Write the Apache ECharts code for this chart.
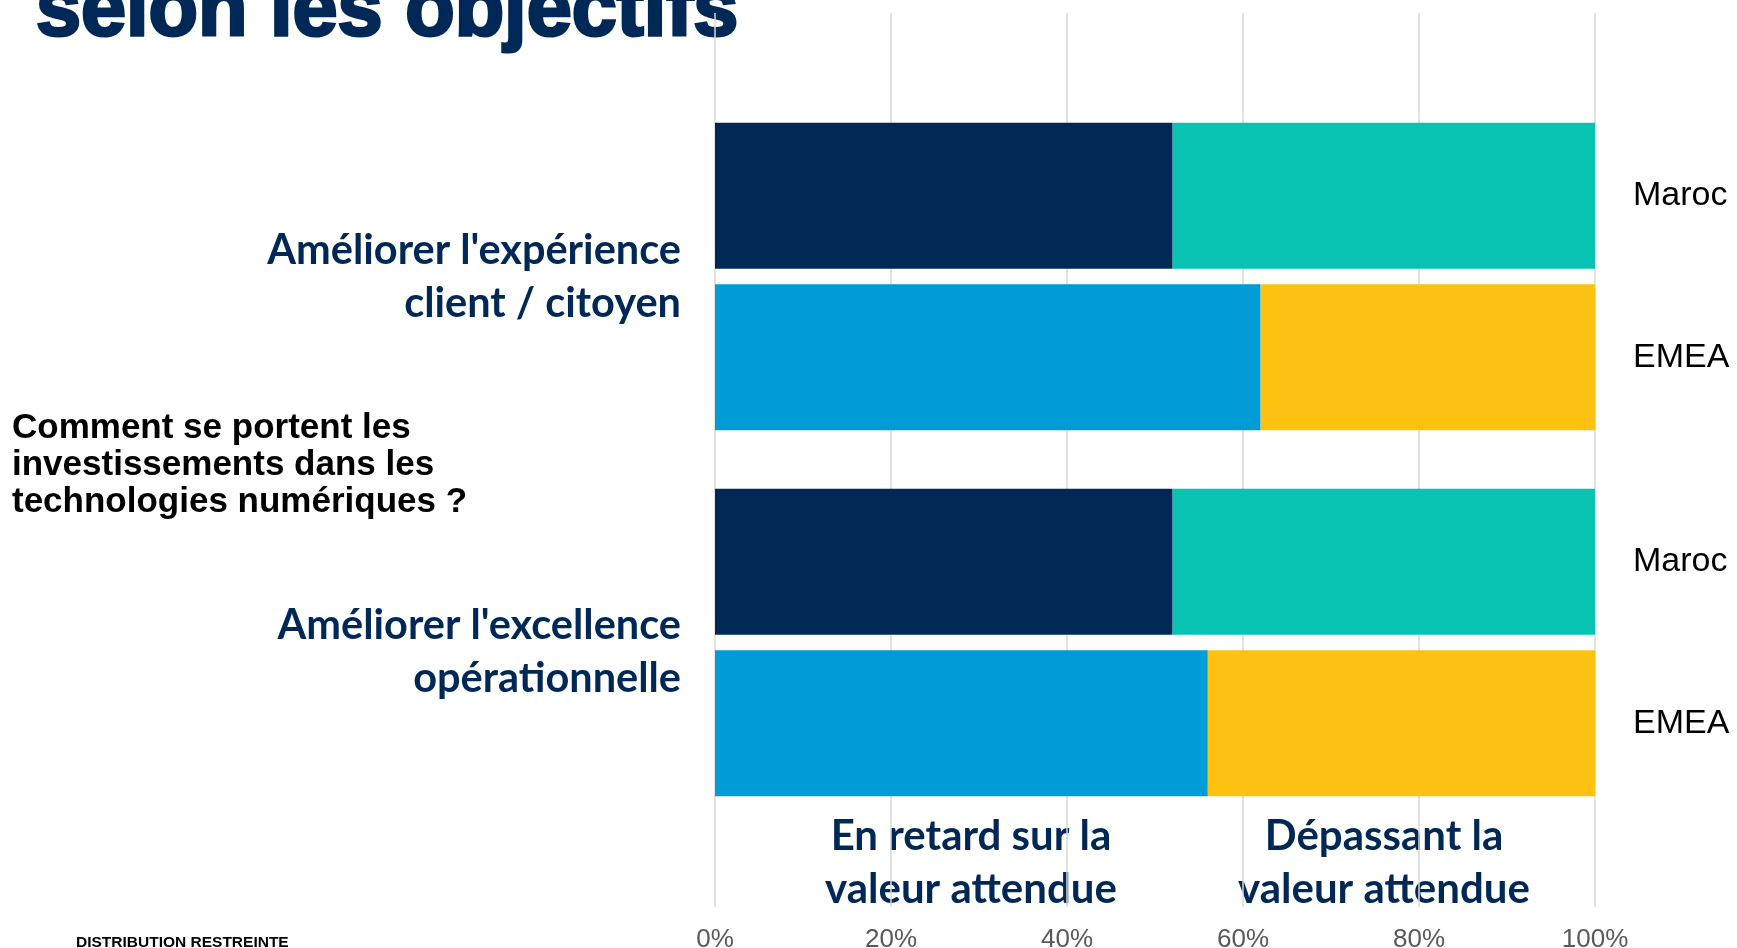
<!DOCTYPE html>
<html><head><meta charset="utf-8">
<script src="https://cdn.jsdelivr.net/npm/echarts@6/dist/echarts.min.js"></script>
<style>html,body{margin:0;padding:0;background:#fff;overflow:hidden}#c{width:1737px;height:948px}</style>
</head><body><div id="c"></div>
<script>
// ---- data ----
const regions = ['Maroc', 'EMEA'];
const objectives = ["Améliorer l'expérience\nclient / citoyen", "Améliorer l'excellence\nopérationnelle"];
const enRetard1 = [52, 62];
const depassant1 = [48, 38];
const enRetard2 = [52, 56];
const depassant2 = [48, 44];
const xTickMin = 0, xTickMax = 100, xTickStep = 20;
const statusLabels = ["En retard sur la\nvaleur attendue", "Dépassant la\nvaleur attendue"];
const question = "Comment se portent les\ninvestissements dans les\ntechnologies numériques ?";
const titleText = "selon les objectifs";
const footer = "DISTRIBUTION RESTREINTE";

// ---- style ----
const NAVY = '#002856';
const retardColors = ['#002855', '#009CD7'];
const depassantColors = ['#09C3B2', '#FDC112'];
const ARIAL = '"Liberation Sans", Arial, sans-serif';
const NARROW = '"Liberation Sans Narrow", "Arial Narrow", "Liberation Sans", sans-serif';
const CAL = 'Lato, "Noto Sans", sans-serif';

const chart = echarts.init(document.getElementById('c'), null, {renderer: 'canvas'});

function barPair(name1, d1, name2, d2, idx) {
  return [
    {type: 'bar', name: name1, xAxisIndex: idx, yAxisIndex: idx, stack: 'g' + idx, barWidth: 146,
     data: d1, itemStyle: {color: p => retardColors[p.dataIndex]}, z: 3},
    {type: 'bar', name: name2, xAxisIndex: idx, yAxisIndex: idx, stack: 'g' + idx, barWidth: 146,
     data: d2, itemStyle: {color: p => depassantColors[p.dataIndex]}, z: 3}
  ];
}

const catAxis = (gi) => ({
  gridIndex: gi, type: 'category', data: regions, inverse: true, position: 'right',
  axisLine: {show: false}, axisTick: {show: false}, splitLine: {show: false},
  axisLabel: {fontSize: 34, color: '#000', margin: 38, align: 'left', fontFamily: ARIAL}
});
const hiddenX = (gi) => ({gridIndex: gi, type: 'value', min: 0, max: 100, show: false});

const option = {
  backgroundColor: '#fff',
  animation: false,
  grid: [
    {left: 715, right: 142, top: 13, bottom: 41, outerBoundsMode: 'none'},
    {left: 715, right: 142, top: 115, height: 323},
    {left: 715, right: 142, top: 481, height: 323}
  ],
  xAxis: [
    {gridIndex: 0, type: 'value', min: xTickMin, max: xTickMax, interval: xTickStep,
     axisLine: {show: false}, axisTick: {show: false},
     splitLine: {show: true, lineStyle: {color: '#d9d9d9', width: 1.5}},
     axisLabel: {formatter: '{value}%', fontSize: 26, color: '#595959', margin: 20, fontFamily: NARROW}},
    hiddenX(1), hiddenX(2)
  ],
  yAxis: [
    {gridIndex: 0, type: 'value', show: false},
    catAxis(1), catAxis(2)
  ],
  series: [
    ...barPair('En retard', enRetard1, 'Dépassant', depassant1, 1),
    ...barPair('En retard', enRetard2, 'Dépassant', depassant2, 2)
  ],
  graphic: [
    {type: 'text', x: 36, y: 13, z: -10, style: {text: titleText, fill: NAVY, stroke: NAVY, lineWidth: 3,
      font: 'bold 81px ' + ARIAL, align: 'left', verticalAlign: 'middle'}},
    {type: 'text', x: 681, y: 277, style: {text: objectives[0], fill: NAVY, font: 'bold 41.5px ' + CAL,
      align: 'right', verticalAlign: 'middle', lineHeight: 53}},
    {type: 'text', x: 681, y: 652.5, style: {text: objectives[1], fill: NAVY, font: 'bold 41.5px ' + CAL,
      align: 'right', verticalAlign: 'middle', lineHeight: 53}},
    {type: 'text', x: 971, y: 863, style: {text: statusLabels[0], fill: NAVY, font: 'bold 42px ' + CAL,
      align: 'center', verticalAlign: 'middle', lineHeight: 53}},
    {type: 'text', x: 1384, y: 863, style: {text: statusLabels[1], fill: NAVY, font: 'bold 42px ' + CAL,
      align: 'center', verticalAlign: 'middle', lineHeight: 53}},
    {type: 'text', x: 12, y: 465.5, style: {text: question, fill: '#000', font: 'bold 35px ' + ARIAL,
      align: 'left', verticalAlign: 'middle', lineHeight: 37}},
    {type: 'text', x: 76, y: 943, style: {text: footer, fill: '#000', font: 'bold 15.5px ' + ARIAL,
      align: 'left', verticalAlign: 'middle'}}
  ]
};
chart.setOption(option);
</script>
</body></html>
